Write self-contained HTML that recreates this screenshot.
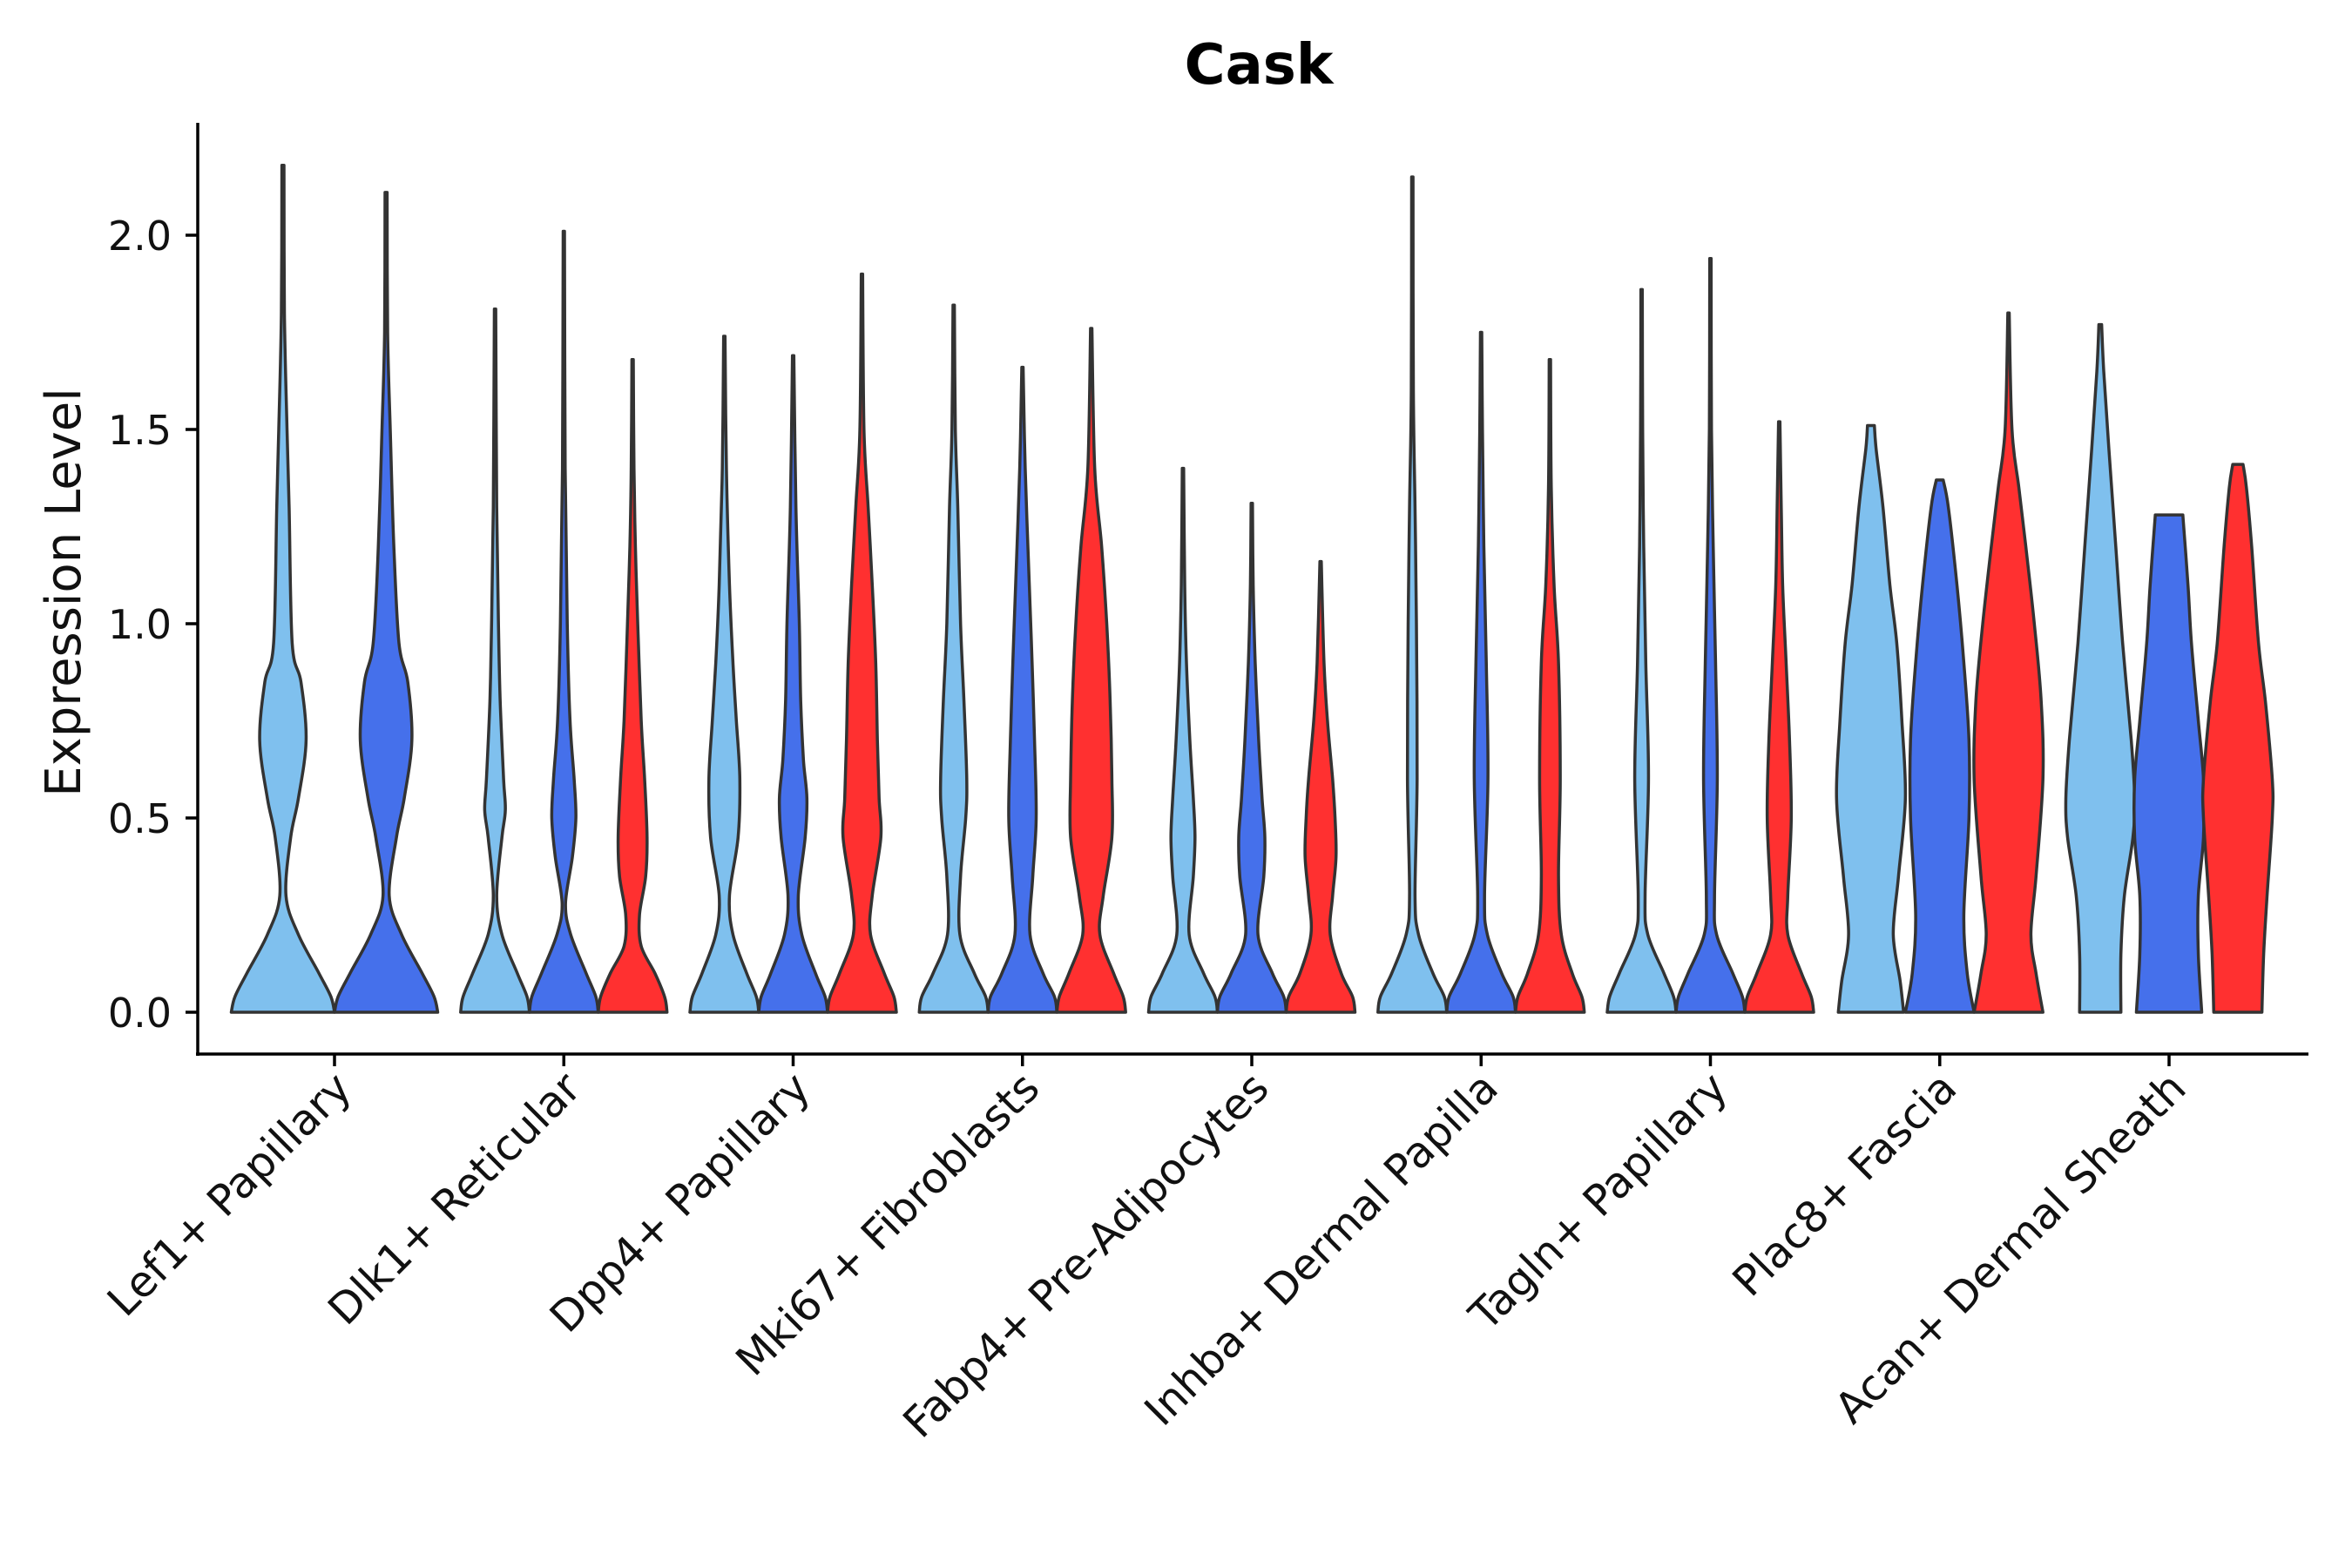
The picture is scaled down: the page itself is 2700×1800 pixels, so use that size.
<!DOCTYPE html>
<html><head><meta charset="utf-8"><style>
html,body{margin:0;padding:0;background:#fff;}
svg{display:block;font-family:"DejaVu Sans","Liberation Sans",sans-serif;}
</style></head><body>
<svg id="chart" width="2700" height="1800" viewBox="0 0 2700 1800">
<text x="1445" y="96" text-anchor="middle" font-size="64" font-weight="bold" fill="#000">Cask</text>
<text transform="translate(92,680) rotate(-90)" text-anchor="middle" font-size="56" fill="#111">Expression Level</text>
<g id="marks"></g>
<g id="axes"></g>
</svg>
<script>
const categories = ["Lef1+ Papillary","Dlk1+ Reticular","Dpp4+ Papillary","Mki67+ Fibroblasts","Fabp4+ Pre-Adipocytes","Inhba+ Dermal Papilla","Tagln+ Papillary","Plac8+ Fascia","Acan+ Dermal Sheath"];
const groups = ["light","blue","red"];
const yTicks = [0,0.5,1.0,1.5,2.0];
const yTickLabels = ["0.0","0.5","1.0","1.5","2.0"];
// density profiles: [value, relative half-width]
const lef1 = [
 [[0,1],[0.04,0.93],[0.1,0.7],[0.2,0.3],[0.3,0.06],[0.45,0.15],[0.55,0.3],[0.7,0.45],[0.85,0.35],[0.95,0.18],[1.3,0.12],[1.5,0.08],[1.8,0.03],[2.18,0.02]],
 [[0,1],[0.04,0.93],[0.1,0.7],[0.2,0.3],[0.3,0.06],[0.45,0.2],[0.55,0.35],[0.7,0.5],[0.85,0.42],[0.95,0.25],[1.2,0.15],[1.5,0.08],[1.75,0.03],[2.11,0.02]]];
const dlk1 = [
 [[0,1],[0.04,0.93],[0.1,0.65],[0.2,0.2],[0.3,0.05],[0.45,0.2],[0.52,0.3],[0.6,0.25],[0.8,0.15],[1.0,0.1],[1.3,0.05],[1.81,0.02]],
 [[0,1],[0.04,0.93],[0.1,0.65],[0.2,0.2],[0.28,0.05],[0.4,0.25],[0.5,0.35],[0.6,0.3],[0.75,0.18],[1.0,0.1],[1.4,0.04],[2.01,0.02]],
 [[0,1],[0.04,0.93],[0.1,0.65],[0.17,0.25],[0.25,0.2],[0.35,0.38],[0.45,0.42],[0.6,0.35],[0.75,0.25],[1.0,0.15],[1.2,0.08],[1.4,0.04],[1.68,0.02]]];
const dpp4 = [
 [[0,1],[0.04,0.93],[0.1,0.65],[0.2,0.25],[0.3,0.15],[0.45,0.4],[0.6,0.45],[0.75,0.35],[0.9,0.25],[1.1,0.15],[1.4,0.06],[1.74,0.02]],
 [[0,1],[0.04,0.93],[0.1,0.65],[0.2,0.25],[0.3,0.15],[0.45,0.35],[0.55,0.4],[0.65,0.3],[0.8,0.22],[1.0,0.18],[1.3,0.08],[1.69,0.02]],
 [[0,1],[0.04,0.93],[0.1,0.65],[0.2,0.25],[0.3,0.3],[0.45,0.55],[0.55,0.5],[0.7,0.45],[0.9,0.4],[1.1,0.3],[1.3,0.18],[1.5,0.06],[1.9,0.02]]];
const mki67 = [
 [[0,1],[0.04,0.93],[0.1,0.6],[0.2,0.18],[0.35,0.2],[0.5,0.35],[0.6,0.38],[0.8,0.3],[1.0,0.2],[1.3,0.12],[1.5,0.05],[1.82,0.02]],
 [[0,1],[0.04,0.93],[0.1,0.6],[0.2,0.22],[0.35,0.3],[0.5,0.4],[0.7,0.35],[0.9,0.28],[1.1,0.2],[1.4,0.08],[1.66,0.02]],
 [[0,1],[0.04,0.93],[0.1,0.65],[0.2,0.25],[0.3,0.35],[0.45,0.6],[0.6,0.6],[0.8,0.55],[1.0,0.45],[1.2,0.3],[1.4,0.1],[1.76,0.02]]];
const fabp4 = [
 [[0,1],[0.04,0.93],[0.1,0.6],[0.2,0.18],[0.35,0.3],[0.45,0.35],[0.55,0.3],[0.7,0.2],[0.9,0.1],[1.1,0.05],[1.4,0.02]],
 [[0,1],[0.04,0.93],[0.1,0.6],[0.2,0.18],[0.35,0.35],[0.45,0.38],[0.55,0.3],[0.7,0.2],[0.9,0.1],[1.1,0.04],[1.31,0.02]],
 [[0,1],[0.04,0.93],[0.1,0.6],[0.2,0.28],[0.3,0.35],[0.4,0.45],[0.5,0.42],[0.6,0.35],[0.75,0.2],[0.9,0.1],[1.16,0.02]]];
const inhba = [
 [[0,1],[0.04,0.93],[0.1,0.6],[0.2,0.18],[0.3,0.08],[0.6,0.14],[1.0,0.12],[1.3,0.08],[1.6,0.03],[2.15,0.02]],
 [[0,1],[0.04,0.93],[0.1,0.6],[0.2,0.18],[0.3,0.1],[0.6,0.2],[0.9,0.15],[1.2,0.08],[1.5,0.04],[1.75,0.02]],
 [[0,1],[0.04,0.93],[0.1,0.65],[0.2,0.33],[0.35,0.25],[0.6,0.3],[0.9,0.25],[1.1,0.12],[1.35,0.04],[1.68,0.02]]];
const tagln = [
 [[0,1],[0.04,0.93],[0.1,0.65],[0.2,0.18],[0.3,0.1],[0.6,0.2],[0.9,0.12],[1.2,0.06],[1.5,0.03],[1.86,0.02]],
 [[0,1],[0.04,0.93],[0.1,0.65],[0.2,0.18],[0.3,0.12],[0.6,0.2],[0.9,0.15],[1.2,0.08],[1.5,0.03],[1.94,0.02]],
 [[0,1],[0.04,0.93],[0.1,0.65],[0.2,0.25],[0.3,0.25],[0.5,0.35],[0.7,0.3],[0.9,0.2],[1.1,0.1],[1.3,0.06],[1.52,0.02]]];
const plac8 = [
 [[0,0.95],[0.08,0.85],[0.2,0.65],[0.35,0.8],[0.55,1.0],[0.75,0.9],[0.95,0.75],[1.1,0.55],[1.3,0.35],[1.45,0.15],[1.51,0.1]],
 [[0,1],[0.1,0.8],[0.25,0.7],[0.5,0.85],[0.7,0.85],[0.9,0.7],[1.1,0.5],[1.3,0.25],[1.37,0.1]],
 [[0,1],[0.1,0.8],[0.2,0.65],[0.35,0.8],[0.6,1.0],[0.8,0.95],[1.0,0.75],[1.2,0.5],[1.35,0.3],[1.5,0.1],[1.8,0.02]]];
const acan = [
 [[0,0.6],[0.15,0.6],[0.3,0.7],[0.45,0.95],[0.55,1.0],[0.7,0.9],[0.95,0.65],[1.2,0.45],[1.45,0.25],[1.65,0.1],[1.77,0.04]],
 [[0,0.95],[0.15,0.85],[0.3,0.85],[0.45,1.0],[0.6,1.0],[0.75,0.85],[0.95,0.65],[1.1,0.55],[1.28,0.4]],
 [[0,0.7],[0.15,0.75],[0.3,0.85],[0.5,1.0],[0.6,1.0],[0.8,0.8],[0.95,0.6],[1.2,0.4],[1.35,0.25],[1.41,0.15]]];
const profiles = [lef1,dlk1,dpp4,mki67,fabp4,inhba,tagln,plac8,acan];
const colors = {light:"#7fc0ee",blue:"#4570eb",red:"#ff3030"};

const X0=384, STEP=263.25, Y0=1162, YPX=446;
const xScale = i => X0 + i*STEP;
const yScale = v => Y0 - v*YPX;
const NS="http://www.w3.org/2000/svg";
const marks=document.getElementById('marks'), axes=document.getElementById('axes');

function catmull(pts){
  let d="";
  for(let i=0;i<pts.length-1;i++){
    const p0=pts[Math.max(0,i-1)],p1=pts[i],p2=pts[i+1],p3=pts[Math.min(pts.length-1,i+2)];
    const c1=[p1[0]+(p2[0]-p0[0])/6,p1[1]+(p2[1]-p0[1])/6];
    const c2=[p2[0]-(p3[0]-p1[0])/6,p2[1]-(p3[1]-p1[1])/6];
    d+=` C${c1[0].toFixed(1)},${c1[1].toFixed(1)} ${c2[0].toFixed(1)},${c2[1].toFixed(1)} ${p2[0].toFixed(1)},${p2[1].toFixed(1)}`;
  }
  return d;
}
profiles.forEach((grp,i)=>{
  const n=grp.length, slot=0.9/n, half=slot/2*STEP;
  grp.forEach((knots,j)=>{
    const cx=xScale(i)+(-0.45+slot*(j+0.5))*STEP;
    const right=knots.map(k=>[cx+k[1]*half,yScale(k[0])]);
    const left=knots.slice().reverse().map(k=>[cx-k[1]*half,yScale(k[0])]);
    let d=`M${right[0][0].toFixed(1)},${right[0][1].toFixed(1)}`+catmull(right);
    d+=` L${left[0][0].toFixed(1)},${left[0][1].toFixed(1)}`+catmull(left)+" Z";
    const p=document.createElementNS(NS,'path');
    p.setAttribute('d',d);
    p.setAttribute('fill',colors[groups[j]]);
    p.setAttribute('stroke','#333');
    p.setAttribute('stroke-width','3.5');
    p.setAttribute('stroke-linejoin','round');
    
    
    marks.appendChild(p);
  });
});
function line(x1,y1,x2,y2,w,name){
  const l=document.createElementNS(NS,'line');
  l.setAttribute('x1',x1);l.setAttribute('y1',y1);l.setAttribute('x2',x2);l.setAttribute('y2',y2);
  l.setAttribute('stroke','#000');l.setAttribute('stroke-width',w);
  
  
  axes.appendChild(l);
}
line(227,141,227,1212,3.5,'y-axis-line');
line(225,1210,2650,1210,3.5,'x-axis-line');
yTicks.forEach((v,k)=>{
  line(213,yScale(v),227,yScale(v),3.5,'y-tick');
  const t=document.createElementNS(NS,'text');
  t.setAttribute('x',197);t.setAttribute('y',yScale(v)+17);
  t.setAttribute('text-anchor','end');t.setAttribute('font-size','46');t.setAttribute('fill','#111');
  t.textContent=yTickLabels[k];
  
  
  axes.appendChild(t);
});
categories.forEach((c,i)=>{
  const x=xScale(i);
  line(x,1210,x,1224,3.5,'x-tick');
  const t=document.createElementNS(NS,'text');
  t.setAttribute('transform',`translate(${x+22},${1252}) rotate(-45)`);
  t.setAttribute('text-anchor','end');t.setAttribute('font-size','49');t.setAttribute('fill','#111');
  t.textContent=c;
  
  
  axes.appendChild(t);
});
</script>
</body></html>
